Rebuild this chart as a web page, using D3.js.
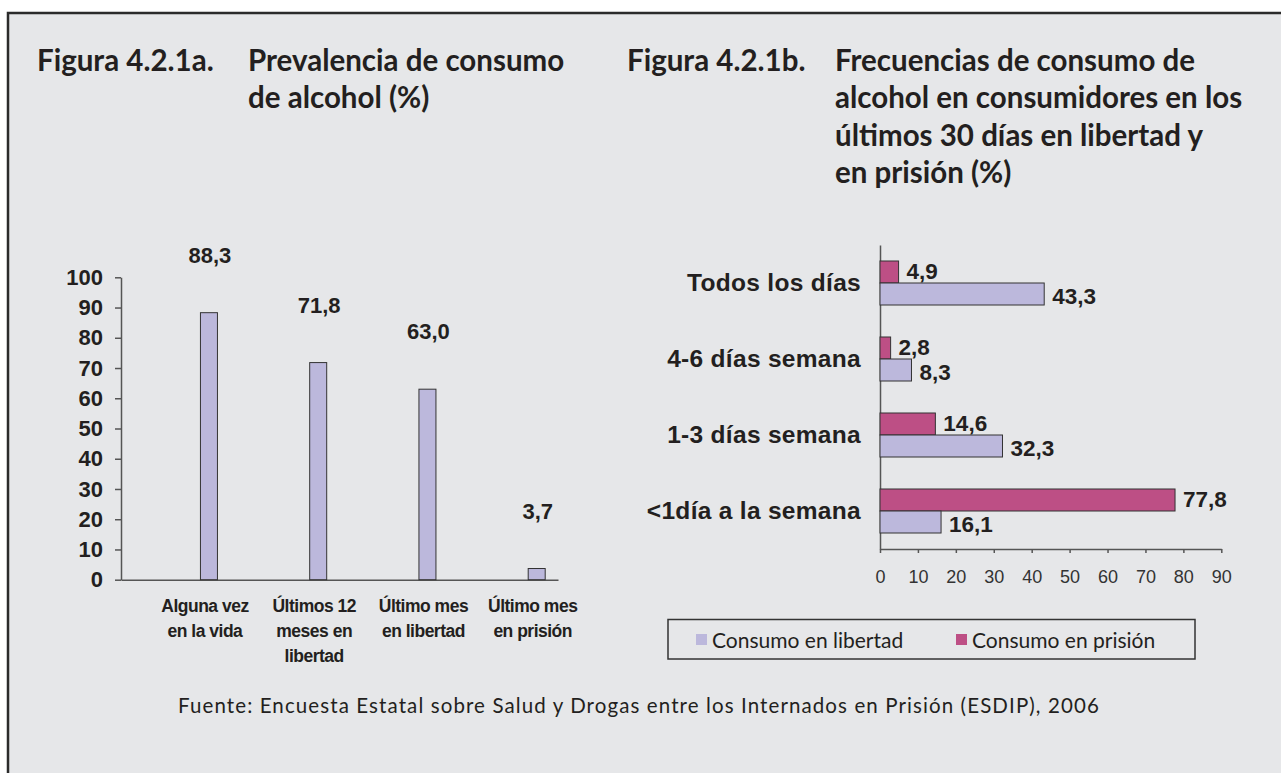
<!DOCTYPE html>
<html lang="es">
<head>
  <meta charset="UTF-8">
  <title>Consumo de alcohol</title>
  <style>
    body { margin: 0; background: #fff; }
    svg { display: block; }
    .title { font-family: Lato, "Open Sans", sans-serif; font-weight: 700; fill: #231f20; }
    .bold { font-family: "Liberation Sans", Arial, sans-serif; font-weight: 700; fill: #231f20; }
    .narrow { font-family: "Liberation Sans Narrow", "Liberation Sans", sans-serif; fill: #333; }
    .plain { font-family: Lato, "Open Sans", sans-serif; fill: #231f20; }
  </style>
  <script src="https://d3js.org/d3.v7.min.js"></script>
</head>
<body>
  <svg id="chart" width="1281" height="773"></svg>
  <script>
    // figura a
    const catsA = [["Alguna vez", "en la vida"], ["Últimos 12", "meses en", "libertad"], ["Último mes", "en libertad"], ["Último mes", "en prisión"]];
    const valuesA = [88.3, 71.8, 63.0, 3.7];
    const yTicksA = [0, 10, 20, 30, 40, 50, 60, 70, 80, 90, 100];

    // figura b
    const catsB = ["Todos los días", "4-6 días semana", "1-3 días semana", "<1día a la semana"];
    const seriesB = ["Consumo en prisión", "Consumo en libertad"];
    const prision = [4.9, 2.8, 14.6, 77.8];
    const libertad = [43.3, 8.3, 32.3, 16.1];
    const xTicksB = [0, 10, 20, 30, 40, 50, 60, 70, 80, 90];

    const titleA = ["Prevalencia de consumo", "de alcohol (%)"];
    const titleB = ["Frecuencias de consumo de", "alcohol en consumidores en los", "últimos 30 días en libertad y", "en prisión (%)"];
    const fuente = "Fuente: Encuesta Estatal sobre Salud y Drogas entre los Internados en Prisión (ESDIP), 2006";

    const lila = "#bcb8dc", rosa = "#bd4f85";
    const fmt = d3.formatLocale({decimal: ",", thousands: ".", grouping: [3], currency: ["", ""]}).format(".1f");

    const svg = d3.select('#chart');

    // fondo y marco
    svg.append('rect').attr('x', 8).attr('y', 13).attr('width', 1300).attr('height', 800)
      .attr('fill', '#e6e7e9').attr('stroke', '#2b2b2b').attr('stroke-width', 2.5);

    // titulos
    function title(x1, x2, label, lines) {
      const g = svg.append('g').attr('class', 'title').style('font-size', '29.5px');
      g.append('text').attr('x', x1).attr('y', 71).text(label);
      g.selectAll('text.l').data(lines).join('text').attr('class', 'l')
        .attr('x', x2).attr('y', (d, i) => 71 + i * 37.3).text(d => d);
    }
    title(37, 248, "Figura 4.2.1a.", titleA);
    title(627, 835, "Figura 4.2.1b.", titleB);

    // ---- figura a: columnas
    const xA = d3.scaleBand().domain(d3.range(catsA.length)).range([121, 558]);
    const yA = d3.scaleLinear().domain([0, 100]).range([579.7, 277.3]);
    const barW = 17;
    const cx = i => xA(i) + xA.bandwidth() * 0.805;

    const gA = svg.append('g');
    gA.append('g').attr('transform', 'translate(121,0)')
      .call(d3.axisLeft(yA).tickValues(yTicksA).tickSize(6).tickSizeOuter(0).tickPadding(12))
      .call(g => g.selectAll('line,path').attr('stroke', '#555').attr('stroke-width', 1.5))
      .call(g => g.selectAll('text').attr('class', 'bold').style('font-size', '22px').attr('fill', '#231f20'));
    gA.append('g').attr('transform', 'translate(0,579.7)')
      .call(d3.axisBottom(xA).tickSize(0).tickSizeOuter(0).tickFormat(''))
      .call(g => g.select('path').attr('stroke', '#555').attr('stroke-width', 1.5));

    gA.selectAll('rect.bar').data(valuesA).join('rect').attr('class', 'bar')
      .attr('x', (d, i) => cx(i) - barW / 2).attr('width', barW)
      .attr('y', d => yA(d)).attr('height', d => yA(0) - yA(d))
      .attr('fill', lila).attr('stroke', '#333').attr('stroke-width', 1);

    gA.selectAll('text.val').data(valuesA).join('text').attr('class', 'val bold')
      .attr('x', (d, i) => cx(i) + 1).attr('y', d => yA(d) - 50)
      .attr('text-anchor', 'middle').style('font-size', '22px').text(d => fmt(d));

    const catG = gA.selectAll('g.cat').data(catsA).join('g').attr('class', 'cat');
    catG.selectAll('text').data((d, i) => d.map(t => ({t, i}))).join('text')
      .attr('class', 'bold').attr('text-anchor', 'middle')
      .attr('x', d => cx(d.i) - 4).attr('y', (d, j) => 611.7 + j * 25)
      .style('font-size', '17.5px').style('letter-spacing', '-0.5px').text(d => d.t);

    // ---- figura b: barras horizontales
    const xB = d3.scaleLinear().domain([0, 90]).range([880, 1221.3]);
    const yB = d3.scaleBand().domain(catsB).range([245, 549]);
    const ySub = d3.scaleBand().domain(seriesB).range([0, yB.bandwidth()]).paddingOuter(0.727);
    const rows = catsB.map((c, i) => ({c, vals: [prision[i], libertad[i]]}));

    const gB = svg.append('g');
    gB.append('g').attr('transform', 'translate(0,549)')
      .call(d3.axisBottom(xB).tickValues(xTicksB).tickSize(4).tickSizeOuter(0).tickPadding(17))
      .call(g => g.selectAll('line,path').attr('stroke', '#555').attr('stroke-width', 1.5))
      .call(g => g.selectAll('text').attr('class', 'narrow').style('font-size', '18px').attr('fill', '#333'));
    gB.append('g').attr('transform', 'translate(880,0)')
      .call(d3.axisLeft(yB).tickSize(0).tickSizeOuter(0).tickPadding(19))
      .call(g => g.select('path').attr('stroke', '#555').attr('stroke-width', 1.5))
      .call(g => g.selectAll('text').attr('class', 'bold').style('font-size', '24.5px')
        .style('letter-spacing', '0.3px').attr('fill', '#231f20'));

    const grp = gB.selectAll('g.grp').data(rows).join('g').attr('class', 'grp')
      .attr('transform', d => `translate(0,${yB(d.c)})`);
    grp.selectAll('rect').data(d => d.vals.map((v, k) => ({v, s: seriesB[k]}))).join('rect')
      .attr('x', xB(0)).attr('y', d => ySub(d.s)).attr('height', ySub.bandwidth())
      .attr('width', d => xB(d.v) - xB(0))
      .attr('fill', d => d.s === seriesB[0] ? rosa : lila).attr('stroke', '#333').attr('stroke-width', 1);
    grp.selectAll('text').data(d => d.vals.map((v, k) => ({v, s: seriesB[k]}))).join('text')
      .attr('class', 'bold').style('font-size', '22.5px')
      .attr('x', d => xB(d.v) + 8)
      .attr('y', d => ySub(d.s) + ySub.bandwidth() / 2 + (d.s === seriesB[0] ? -1 : 2))
      .attr('dy', '0.36em').text(d => fmt(d.v));

    // leyenda
    const leg = svg.append('g');
    leg.append('rect').attr('x', 668).attr('y', 619.5).attr('width', 527).attr('height', 39.5)
      .attr('fill', 'none').attr('stroke', '#333').attr('stroke-width', 1.5);
    const legItems = [{s: seriesB[1], c: lila, x: 696}, {s: seriesB[0], c: rosa, x: 956}];
    leg.selectAll('rect.k').data(legItems).join('rect').attr('class', 'k')
      .attr('x', d => d.x).attr('y', 634).attr('width', 11).attr('height', 11).attr('fill', d => d.c);
    leg.selectAll('text').data(legItems).join('text').attr('class', 'plain')
      .attr('x', d => d.x + 16).attr('y', 648).style('font-size', '21px').text(d => d.s);

    // fuente
    svg.append('text').attr('class', 'plain').attr('x', 639).attr('y', 713)
      .attr('text-anchor', 'middle').style('font-size', '20.5px').style('letter-spacing', '1.1px')
      .attr('fill', '#333').text(fuente);
  </script>
</body>
</html>
